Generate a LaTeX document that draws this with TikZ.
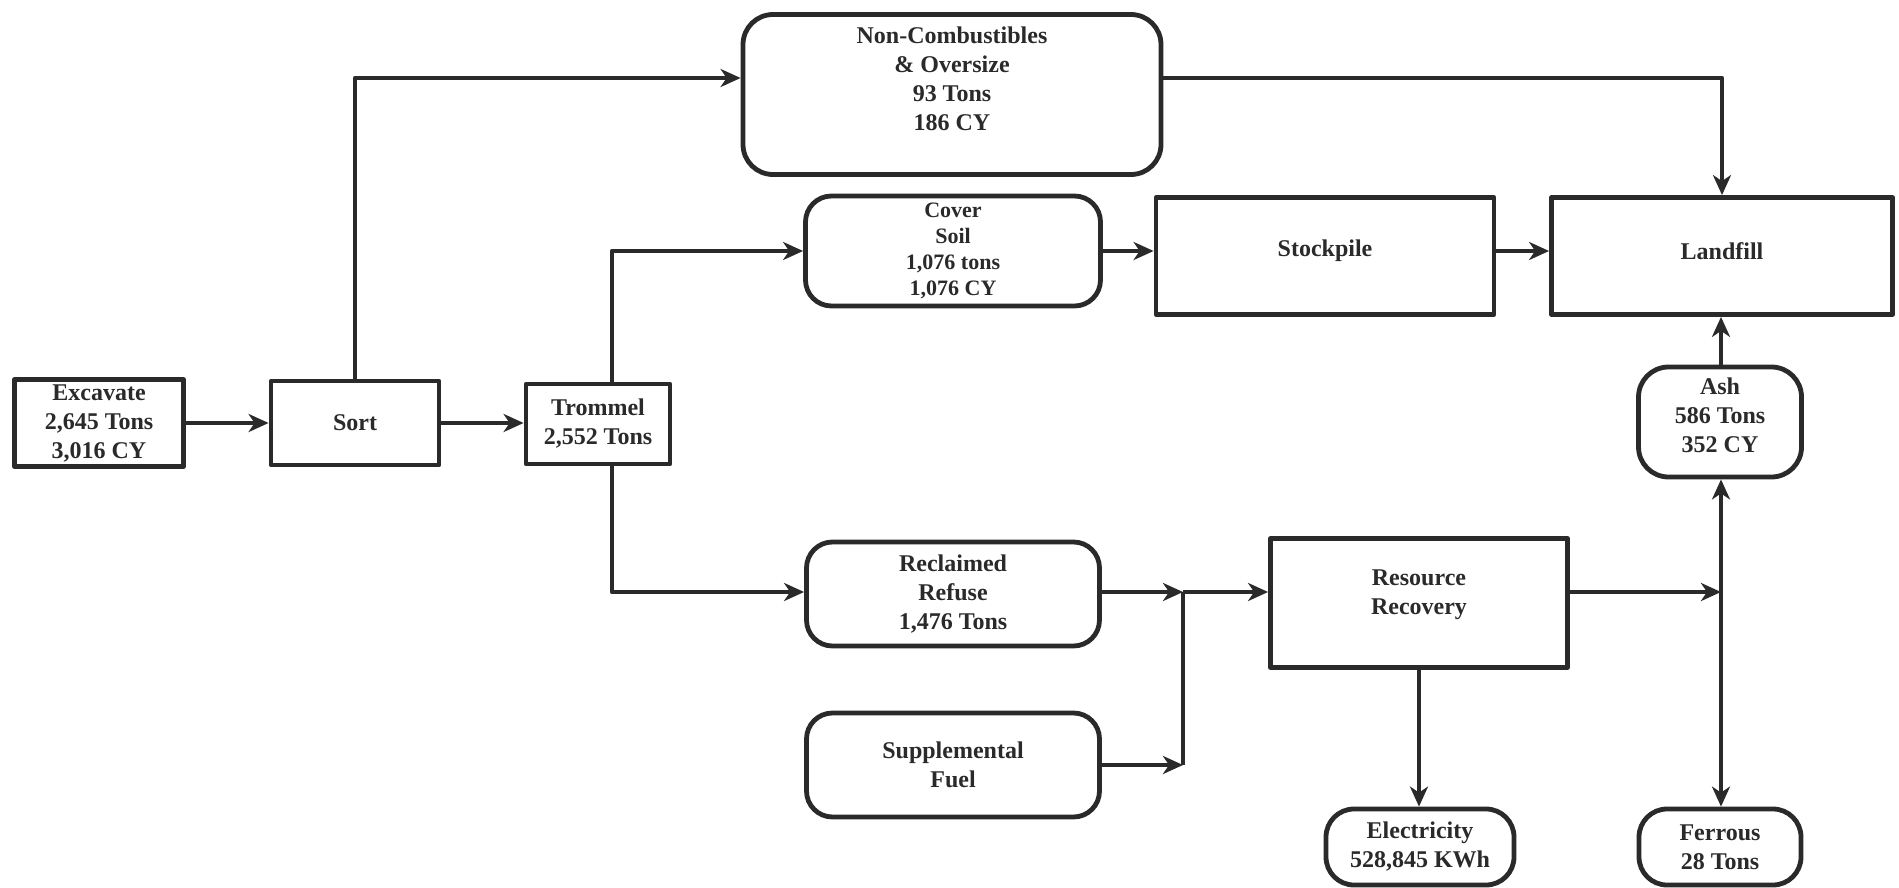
\documentclass[tikz,border=0pt]{standalone}
\usepackage{fontspec}
\setmainfont{Liberation Serif}
\usetikzlibrary{arrows.meta}
\definecolor{ink}{HTML}{2A2A2A}

\begin{document}
\begin{tikzpicture}[x=1pt, y=-1pt, line join=round, >={Stealth[length=20pt,width=18pt,inset=6pt]},
	font=\fontsize{24}{29}\selectfont\bfseries,
	box/.style={draw=ink, line width=4.8pt, fill=white, align=center, inner sep=0pt, text=ink},
	rbox/.style={box, rounded corners=26pt},
	txt/.style={align=center, inner sep=0pt, text=ink},
	flow/.style={draw=ink, line width=4.3pt, ->},
	link/.style={draw=ink, line width=4.3pt}]
	\useasboundingbox (0,0) rectangle (1899,888);
	% where the connectors run
	\coordinate (toprow) at (0,78);
	\coordinate (tcol) at (612,0);
	\coordinate (merge) at (1183,592);
	\coordinate (split) at (1721,592);
	% main line
	\node[box, minimum width=169pt, minimum height=87pt] (excavate) at (99,423) {Excavate\\2,645 Tons\\3,016 CY};
	\node[box, minimum width=168pt, minimum height=84pt] (sort) at (355,423) {Sort};
	\node[box, minimum width=144pt, minimum height=80pt] (trommel) at (598,424) {Trommel\\2,552 Tons};
	% upper branch
	\node[rbox, minimum width=418pt, minimum height=160pt, rounded corners=30pt,
		label={[txt, yshift=15.5pt]center:{Non-Combustibles\\\& Oversize\\93 Tons\\186 CY}}] (noncomb) at (952,94.5) {};
	\node[rbox, minimum width=295pt, minimum height=110pt, font=\fontsize{22}{26}\selectfont\bfseries] (cover) at (953,251)
		{Cover\\Soil\\1,076 tons\\1,076 CY};
	\node[box, minimum width=338pt, minimum height=117pt, label={[txt, yshift=5pt]center:Stockpile}] (stockpile) at (1325,256) {};
	\node[box, minimum width=341pt, minimum height=117pt, label={[txt, yshift=5pt]center:Landfill}] (landfill) at (1722,256) {};
	\node[rbox, minimum width=163pt, minimum height=110pt, rounded corners=30pt,
		label={[txt, yshift=7pt]center:{Ash\\586 Tons\\352 CY}}] (ash) at (1720,422) {};
	% lower branch
	\node[rbox, minimum width=293pt, minimum height=104pt] (reclaimed) at (953,594) {Reclaimed\\Refuse\\1,476 Tons};
	\node[rbox, minimum width=293pt, minimum height=104pt] (suppl) at (953,765) {Supplemental\\Fuel};
	\node[box, minimum width=297pt, minimum height=129pt,
		label={[txt, yshift=8pt]center:{Resource\\Recovery}}] (recovery) at (1419,603) {};
	\node[rbox, minimum width=188pt, minimum height=76pt, rounded corners=28pt] (electricity) at (1420,847) {Electricity\\528,845 KWh};
	\node[rbox, minimum width=162pt, minimum height=76pt, rounded corners=28pt] (ferrous) at (1720,847) {Ferrous\\28 Tons};

	\draw[flow] (excavate.east) -- (excavate.east -| sort.west);
	\draw[flow] (sort.east) -- (sort.east -| trommel.west);
	\draw[flow] (sort.north) |- (noncomb.west |- toprow);
	\draw[flow] (trommel.north -| tcol) |- (cover.west);
	\draw[flow] (trommel.south -| tcol) |- (reclaimed.west |- merge);
	\draw[flow] (noncomb.east |- toprow) -| (landfill.north);
	\draw[flow] (cover.east) -- (cover.east -| stockpile.west);
	\draw[flow] (stockpile.east |- cover.east) -- (cover.east -| landfill.west);
	\draw[flow] (ash.north -| split) -- (split |- landfill.south);
	\draw[flow] (reclaimed.east |- merge) -- (merge);
	\draw[flow] (suppl.east) -- (suppl.east -| merge);
	\draw[link] (merge) -- (suppl.east -| merge);
	\draw[flow] (merge) -- (merge -| recovery.west);
	\draw[flow] (recovery.east |- split) -- (split);
	\draw[flow] (split) -- (split |- ash.south);
	\draw[flow] (split) -- (split |- ferrous.north);
	\draw[flow] (recovery.south) -- (recovery.south |- electricity.north);
\end{tikzpicture}
\end{document}
